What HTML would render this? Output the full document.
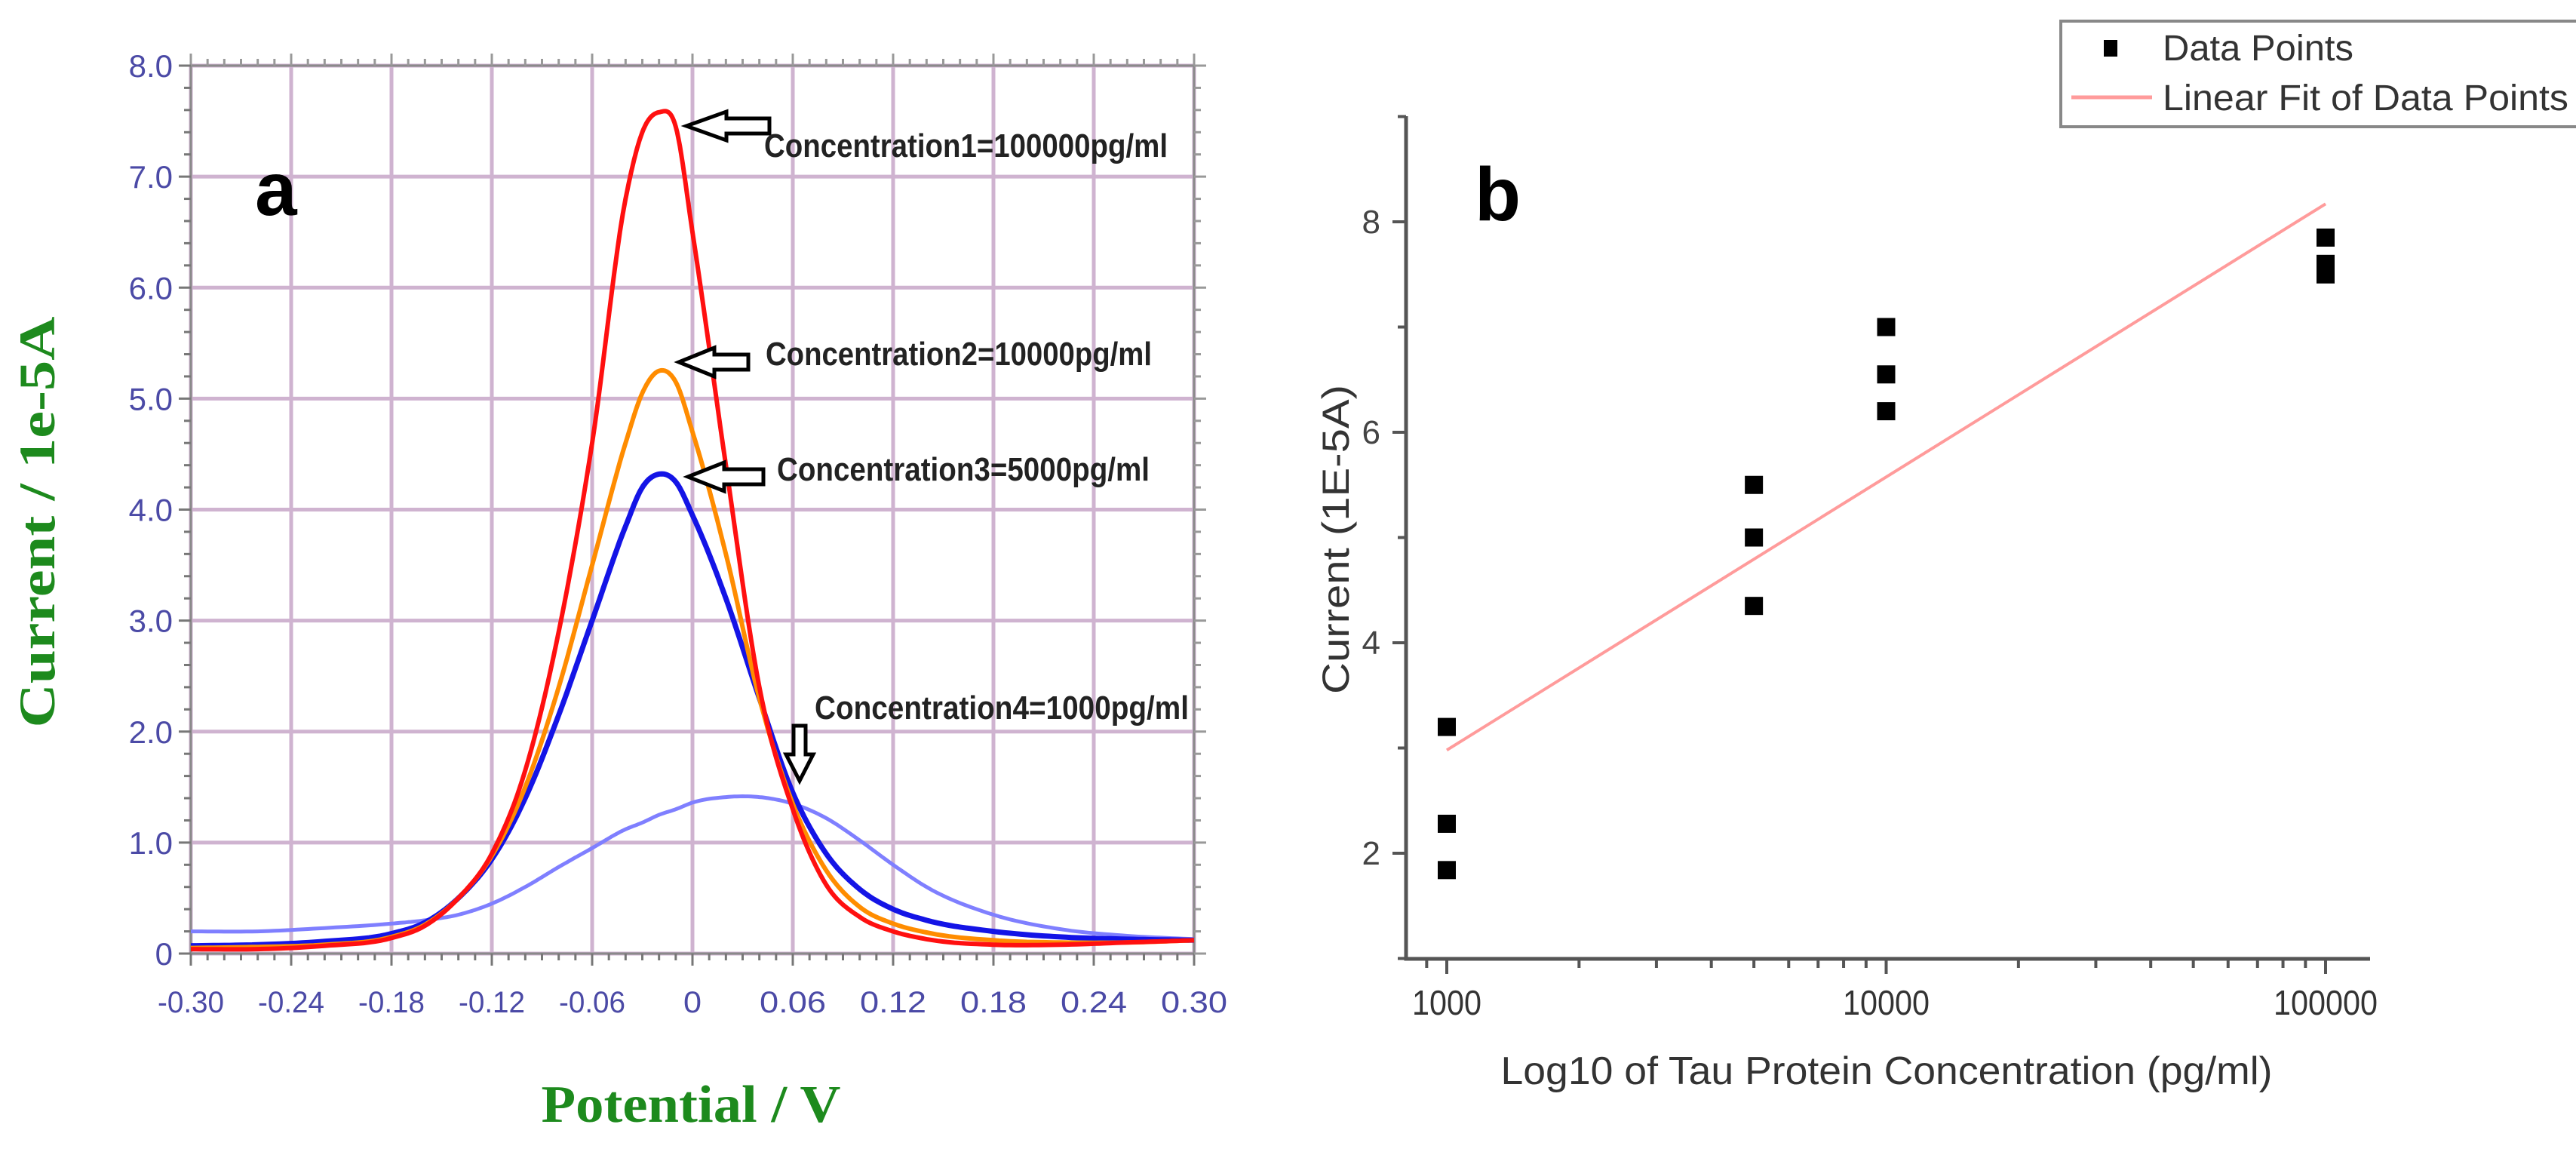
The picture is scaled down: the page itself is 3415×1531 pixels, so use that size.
<!DOCTYPE html>
<html><head><meta charset="utf-8"><title>Tau protein DPV chart</title>
<style>
html,body{margin:0;padding:0;background:#fff;}
svg{display:block;}
</style></head>
<body>
<svg id="fig" width="3415" height="1531" viewBox="0 0 3415 1531" xmlns="http://www.w3.org/2000/svg">
<rect x="0" y="0" width="3415" height="1531" fill="#fff"/>
<g id="panelA"></g>
<g id="panelB"></g>
</svg>
<script>
// ---------- Panel A data ----------
const potentials = [-0.30,-0.26,-0.22,-0.18,-0.16,-0.14,-0.12,-0.10,-0.08,-0.06,-0.04,-0.03,-0.02,-0.01,0,0.02,0.04,0.06,0.08,0.10,0.12,0.14,0.18,0.22,0.26,0.30];
const current100000 = [0.04,0.04,0.07,0.14,0.25,0.5,0.9,1.65,2.9,4.6,6.8,7.4,7.58,7.45,6.5,4.4,2.4,1.3,0.62,0.33,0.2,0.13,0.08,0.08,0.1,0.12];
const current10000 = [0.05,0.06,0.08,0.15,0.26,0.5,0.88,1.5,2.4,3.5,4.6,5.05,5.25,5.15,4.7,3.6,2.3,1.35,0.75,0.42,0.27,0.19,0.12,0.1,0.1,0.12];
const current5000 = [0.07,0.08,0.11,0.18,0.28,0.5,0.85,1.4,2.15,3.0,3.85,4.2,4.32,4.25,3.95,3.2,2.3,1.45,0.9,0.58,0.4,0.3,0.2,0.15,0.13,0.12];
const current1000 = [0.2,0.2,0.23,0.27,0.3,0.35,0.45,0.6,0.78,0.95,1.12,1.18,1.25,1.3,1.36,1.41,1.41,1.35,1.22,1.02,0.8,0.6,0.35,0.22,0.16,0.13];
const xTicksA = [-0.30,-0.24,-0.18,-0.12,-0.06,0,0.06,0.12,0.18,0.24,0.30];
const xTickLabelsA = ["-0.30","-0.24","-0.18","-0.12","-0.06","0","0.06","0.12","0.18","0.24","0.30"];
const yTicksA = [0,1,2,3,4,5,6,7,8];
const yTickLabelsA = ["0","1.0","2.0","3.0","4.0","5.0","6.0","7.0","8.0"];
const annotationLabels = ["Concentration1=100000pg/ml","Concentration2=10000pg/ml","Concentration3=5000pg/ml","Concentration4=1000pg/ml"];

// ---------- Panel B data ----------
const concentrations = [1000,1000,1000,5000,5000,5000,10000,10000,10000,100000,100000,100000];
const measuredCurrent = [3.2,2.28,1.84,5.5,5.0,4.35,7.0,6.55,6.2,7.85,7.6,7.5];
const fitConc = [1000,100000];
const fitCurrent = [2.98,8.17];
const xTicksB = [1000,10000,100000];
const xTickLabelsB = ["1000","10000","100000"];
const yTicksB = [2,4,6,8];
const yTickLabelsB = ["2","4","6","8"];

const NS = "http://www.w3.org/2000/svg";
function mk(parent, tag, attrs, text){
  const e = document.createElementNS(NS, tag);
  for (const k in attrs) e.setAttribute(k, attrs[k]);
  if (text !== undefined) e.textContent = text;
  parent.appendChild(e);
  return e;
}
// cubic Hermite through data points with non-uniform x, sampled densely
function hermitePath(xs, ys, fx, fy){
  const n = xs.length, m = [];
  for (let i=0;i<n;i++){
    if (i===0) m.push((ys[1]-ys[0])/(xs[1]-xs[0]));
    else if (i===n-1) m.push((ys[n-1]-ys[n-2])/(xs[n-1]-xs[n-2]));
    else {
      const d0=(ys[i]-ys[i-1])/(xs[i]-xs[i-1]), d1=(ys[i+1]-ys[i])/(xs[i+1]-xs[i]);
      const h0=xs[i]-xs[i-1], h1=xs[i+1]-xs[i];
      m.push((d0*h1+d1*h0)/(h0+h1));
    }
  }
  let d = "";
  for (let i=0;i<n-1;i++){
    const h = xs[i+1]-xs[i], steps=12;
    for (let s=(i===0?0:1); s<=steps; s++){
      const t=s/steps, t2=t*t, t3=t2*t;
      const y = (2*t3-3*t2+1)*ys[i] + (t3-2*t2+t)*h*m[i] + (-2*t3+3*t2)*ys[i+1] + (t3-t2)*h*m[i+1];
      const x = xs[i]+t*h;
      d += (d===""?"M":" L") + fx(x).toFixed(1) + "," + fy(y).toFixed(1);
    }
  }
  return d;
}

// ================= Panel A =================
(function(){
  const g = document.getElementById("panelA");
  const L=253, R=1583, T=87, B=1264;
  const xA = v => L + (v+0.30)/0.60*(R-L);
  const yA = v => B - v/8*(B-T);
  const grid = mk(g,"g",{});
  
  
  xTicksA.forEach(v=>{ mk(grid,"line",{x1:xA(v),x2:xA(v),y1:T,y2:B,stroke:"#cfb3d0","stroke-width":5}); });
  yTicksA.forEach(v=>{ mk(grid,"line",{x1:L,x2:R,y1:yA(v),y2:yA(v),stroke:"#cfb3d0","stroke-width":5}); });
  const fr = mk(g,"rect",{x:L,y:T,width:R-L,height:B-T,fill:"none",stroke:"#8a8a8a","stroke-width":3});
  
  
  for (let i=0;i<=60;i++){
    const v=-0.30+i*0.01, x=xA(v), len=(i%6===0)?16:9;
    mk(g,"line",{x1:x,x2:x,y1:B,y2:B+len,stroke:"#777","stroke-width":3});
    mk(g,"line",{x1:x,x2:x,y1:T,y2:T-len,stroke:"#999","stroke-width":3});
  }
  for (let i=0;i<=40;i++){
    const v=i*0.2, y=yA(v), len=(i%5===0)?16:9;
    mk(g,"line",{x1:L-len,x2:L,y1:y,y2:y,stroke:"#777","stroke-width":3});
    mk(g,"line",{x1:R,x2:R+len,y1:y,y2:y,stroke:"#999","stroke-width":3});
  }
  xTicksA.forEach((v,i)=>{
    const t = mk(g,"text",{x:xA(v),y:1342,"text-anchor":"middle","font-family":"Liberation Sans, sans-serif","font-size":40,fill:"#4b4aa6",textLength:xTickLabelsA[i].length>1?88:24,lengthAdjust:"spacingAndGlyphs"},xTickLabelsA[i]);
    
    
  });
  yTicksA.forEach((v,i)=>{
    const t = mk(g,"text",{x:229,y:yA(v)+15,"text-anchor":"end","font-family":"Liberation Sans, sans-serif","font-size":42,fill:"#4b4aa6"},yTickLabelsA[i]);
    
    
  });
  const series = [
    {vals:current1000,color:"#7f7fff",w:5,name:"curve-1000pgml"},
    {vals:current5000,color:"#1414e6",w:7,name:"curve-5000pgml"},
    {vals:current10000,color:"#ff8c00",w:6,name:"curve-10000pgml"},
    {vals:current100000,color:"#ff1010",w:6,name:"curve-100000pgml"}
  ];
  series.forEach(s=>{
    const path = mk(g,"path",{d:hermitePath(potentials,s.vals,xA,yA),fill:"none",stroke:s.color,"stroke-width":s.w,"stroke-linejoin":"round"});
    
    
  });
  function leftArrow(tipx, y, headx, endx, name){
    const hh=19, sh=10;
    const d = `M${tipx},${y} L${headx},${y-hh} L${headx},${y-sh} L${endx},${y-sh} L${endx},${y+sh} L${headx},${y+sh} L${headx},${y+hh} Z`;
    const a = mk(g,"path",{d:d,fill:"#fff",stroke:"#000","stroke-width":5,"stroke-linejoin":"miter"});
    
    
  }
  leftArrow(910,167,963,1020,"arrow-conc1");
  leftArrow(900,480,947,992,"arrow-conc2");
  leftArrow(912,632,960,1012,"arrow-conc3");
  const da = mk(g,"path",{d:"M1060,1035 L1042,1000 L1052,1000 L1052,962 L1068,962 L1068,1000 L1078,1000 Z",fill:"#fff",stroke:"#000","stroke-width":5});
  
  
  const ann = [[1013,208,535],[1015,484,512],[1030,637,494],[1080,953,496]];
  ann.forEach((a,i)=>{
    const t = mk(g,"text",{x:a[0],y:a[1],"font-family":"Liberation Sans, sans-serif","font-size":44,"font-weight":"bold",fill:"#222",textLength:a[2],lengthAdjust:"spacingAndGlyphs"},annotationLabels[i]);
    
    
  });
  const la = mk(g,"text",{x:338,y:285,"font-family":"Liberation Sans, sans-serif","font-size":100,"font-weight":"bold",fill:"#000"},"a");
  
  
  const yt = mk(g,"text",{x:0,y:0,transform:"translate(72,692) rotate(-90)","text-anchor":"middle","font-family":"Liberation Serif, serif","font-size":68,"font-weight":"bold",fill:"#1d8a1d",textLength:545,lengthAdjust:"spacingAndGlyphs"},"Current / 1e-5A");
  
  
  const xt = mk(g,"text",{x:916,y:1487,"text-anchor":"middle","font-family":"Liberation Serif, serif","font-size":70,"font-weight":"bold",fill:"#1d8a1d",textLength:397,lengthAdjust:"spacingAndGlyphs"},"Potential / V");
  
  
})();

// ================= Panel B =================
(function(){
  const g = document.getElementById("panelB");
  const AX=1864, AY=1271, TOP=154, RIGHT=3142;
  const xB = v => 1918 + (Math.log10(v)-3)*582.5;
  const yB = v => 1131 - (v-2)*139.5;
  const ax = mk(g,"path",{d:`M${AX},${TOP} L${AX},${AY} L${RIGHT},${AY}`,fill:"none",stroke:"#555","stroke-width":5});
  
  
  for (let v=1; v<=9; v++){
    const major = (v%2===0);
    mk(g,"line",{x1:AX-(major?18:11),x2:AX,y1:yB(v),y2:yB(v),stroke:"#555","stroke-width":4});
  }
  yTicksB.forEach((v,i)=>{
    const t = mk(g,"text",{x:1830,y:yB(v)+15,"text-anchor":"end","font-family":"Liberation Sans, sans-serif","font-size":44,fill:"#444"},yTickLabelsB[i]);
    
    
  });
  for (let d=100; d<=100000; d*=10){
    for (let m=1;m<=9;m++){
      const v=d*m, x=xB(v);
      if (x<AX || x>RIGHT) continue;
      const major = (m===1);
      mk(g,"line",{x1:x,x2:x,y1:AY,y2:AY+(major?20:12),stroke:"#555","stroke-width":4});
    }
  }
  xTicksB.forEach((v,i)=>{
    const t = mk(g,"text",{x:xB(v),y:1345,"text-anchor":"middle","font-family":"Liberation Sans, sans-serif","font-size":46,fill:"#333",textLength:xTickLabelsB[i].length*23,lengthAdjust:"spacingAndGlyphs"},xTickLabelsB[i]);
    
    
  });
  const fl = mk(g,"line",{x1:xB(fitConc[0]),y1:yB(fitCurrent[0]),x2:xB(fitConc[1]),y2:yB(fitCurrent[1]),stroke:"#ff9b9b","stroke-width":4});
  
  
  concentrations.forEach((c,i)=>{
    const p = mk(g,"rect",{x:xB(c)-12,y:yB(measuredCurrent[i])-12,width:24,height:24,fill:"#000"});
    
    
  });
  const yt = mk(g,"text",{x:0,y:0,transform:"translate(1788,715) rotate(-90)","text-anchor":"middle","font-family":"Liberation Sans, sans-serif","font-size":50,fill:"#333",textLength:410,lengthAdjust:"spacingAndGlyphs"},"Current (1E-5A)");
  
  
  const xt = mk(g,"text",{x:2501,y:1437,"text-anchor":"middle","font-family":"Liberation Sans, sans-serif","font-size":52,fill:"#333",textLength:1023,lengthAdjust:"spacingAndGlyphs"},"Log10 of Tau Protein Concentration (pg/ml)");
  
  
  const lb = mk(g,"text",{x:1955,y:292,"font-family":"Liberation Sans, sans-serif","font-size":100,"font-weight":"bold",fill:"#000"},"b");
  
  
  const lg = mk(g,"g",{});
  
  
  mk(lg,"path",{d:"M3415,28 L2732,28 L2732,168 L3415,168",fill:"#fff",stroke:"#888","stroke-width":4});
  const e1 = mk(lg,"rect",{x:2789,y:53,width:18,height:22,fill:"#000"});
  
  
  const t1 = mk(lg,"text",{x:2867,y:80,"font-family":"Liberation Sans, sans-serif","font-size":48,fill:"#333",textLength:253,lengthAdjust:"spacingAndGlyphs"},"Data Points");
  
  
  const e2 = mk(lg,"line",{x1:2746,x2:2853,y1:129,y2:129,stroke:"#ff9b9b","stroke-width":5});
  
  
  const t2 = mk(lg,"text",{x:2867,y:146,"font-family":"Liberation Sans, sans-serif","font-size":48,fill:"#333",textLength:538,lengthAdjust:"spacingAndGlyphs"},"Linear Fit of Data Points");
  
  
})();
</script>
</body></html>
